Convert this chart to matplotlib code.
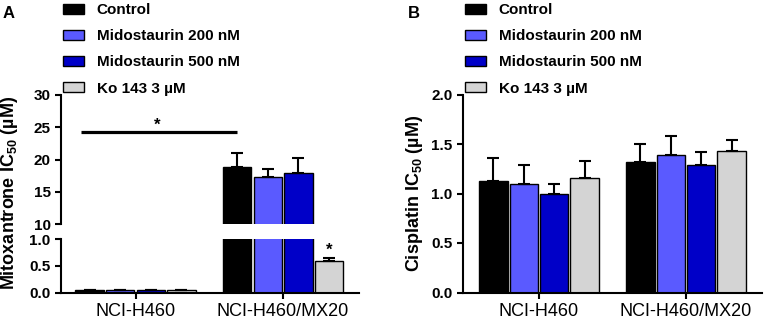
import numpy as np
import matplotlib
matplotlib.use("Agg")
import matplotlib.pyplot as plt

plt.rcParams['font.family'] = ['Liberation Sans', 'DejaVu Sans']
plt.rcParams['mathtext.fontset'] = 'custom'
plt.rcParams['mathtext.rm'] = 'Liberation Sans:bold'
plt.rcParams['mathtext.bf'] = 'Liberation Sans:bold'
plt.rcParams['mathtext.it'] = 'Liberation Sans:bold:italic'
plt.rcParams['mathtext.default'] = 'rm'

# ---- data ----
cells = ['NCI-H460', 'NCI-H460/MX20']
treatments = ['Control', 'Midostaurin 200 nM', 'Midostaurin 500 nM', 'Ko 143 3 µM']
colors = ['#000000', '#5a5aff', '#0000c8', '#d4d4d4']

# mitoxantrone IC50 (uM), rows = treatment, cols = cell line
mito_mean = [[0.05, 18.8], [0.05, 17.3], [0.05, 18.0], [0.05, 0.59]]
mito_err = [[0.0, 2.3], [0.0, 1.25], [0.0, 2.3], [0.0, 0.06]]

# cisplatin IC50 (uM)
cis_mean = [[1.125, 1.32], [1.10, 1.385], [0.995, 1.285], [1.152, 1.425]]
cis_err = [[0.23, 0.18], [0.185, 0.20], [0.10, 0.13], [0.175, 0.12]]

W, H = 765, 320
fig = plt.figure(figsize=(W/100, H/100), dpi=100)

def fx(px): return px/W
def fy(py): return 1-py/H

axA_up = fig.add_axes([fx(61), fy(224.3), fx(359)-fx(61), fy(95)-fy(224.3)])
axA_lo = fig.add_axes([fx(61), fy(292.5), fx(359)-fx(61), fy(239.3)-fy(292.5)])
axB = fig.add_axes([fx(463), fy(292.5), fx(762)-fx(463), fy(94.5)-fy(292.5)])

x = np.arange(len(cells))
pitch = 0.207
bw = 0.193

def draw_bars(ax, means, errs):
    hs = []
    for i, t in enumerate(treatments):
        pos = x + (i-1.5)*pitch
        b = ax.bar(pos, means[i], bw, color=colors[i], edgecolor='black', linewidth=1.0,
                   label=t, zorder=2)
        ax.errorbar(pos, means[i], yerr=[np.zeros(len(cells)), errs[i]], fmt='none',
                    ecolor='black', elinewidth=1.5, capsize=4.5, capthick=1.5, zorder=3)
        hs.append(b)
    return hs

def style(ax):
    for s in ['top', 'right']:
        ax.spines[s].set_visible(False)
    for s in ['left', 'bottom']:
        ax.spines[s].set_linewidth(1.5)
    ax.tick_params(direction='out', length=4, width=1.5, labelsize=11)
    for lab in ax.get_yticklabels():
        lab.set_fontweight('bold')

handles = draw_bars(axA_up, mito_mean, mito_err)
draw_bars(axA_lo, mito_mean, mito_err)
draw_bars(axB, cis_mean, cis_err)

# panel A upper
axA_up.set_ylim(10, 30)
axA_up.set_yticks([10, 15, 20, 25, 30])
axA_up.set_xlim(-0.505, 1.515)
axA_up.set_xticks([])
style(axA_up)
axA_up.spines['bottom'].set_visible(False)
axA_up.plot([-0.37, 0.69], [24.3, 24.3], color='black', lw=2.3, solid_capstyle='butt')
axA_up.text(0.146, 25.3, '*', ha='center', va='center', fontsize=12, fontweight='bold')

# panel A lower
axA_lo.set_ylim(0, 1.0)
axA_lo.set_yticks([0, 0.5, 1.0])
axA_lo.set_yticklabels(['0.0', '0.5', '1.0'])
axA_lo.set_xlim(-0.505, 1.515)
axA_lo.set_xticks(x)
axA_lo.set_xticklabels(cells)
style(axA_lo)
axA_lo.tick_params(axis='x', labelsize=13)
axA_lo.text(1 + 1.5*pitch, 0.8, '*', ha='center', va='center', fontsize=12, fontweight='bold')

# panel B
axB.set_ylim(0, 2.0)
axB.set_yticks([0, 0.5, 1.0, 1.5, 2.0])
axB.set_yticklabels(['0.0', '0.5', '1.0', '1.5', '2.0'])
axB.set_xlim(-0.517, 1.517)
axB.set_xticks(x)
axB.set_xticklabels(cells)
style(axB)
axB.tick_params(axis='x', labelsize=13)

# y labels and panel letters
fig.text(fx(10), fy(193), 'Mitoxantrone IC$_{50}$ (µM)', rotation=90, ha='center', va='center',
         fontsize=13, fontweight='bold')
fig.text(fx(415), fy(193), 'Cisplatin IC$_{50}$ (µM)', rotation=90, ha='center', va='center',
         fontsize=13, fontweight='bold')
fig.text(fx(3), fy(13), 'A', fontsize=12, fontweight='bold', va='center')
fig.text(fx(408), fy(13), 'B', fontsize=12, fontweight='bold', va='center')

# legends
for lx in [63, 465]:
    leg = fig.legend(handles, treatments, loc='upper left', bbox_to_anchor=(fx(lx), fy(3)),
                     frameon=False, borderpad=0, borderaxespad=0, handlelength=1.35,
                     handleheight=0.65, handletextpad=0.85, labelspacing=0.8,
                     prop={'size': 11, 'weight': 'bold'})

fig.savefig('out.png', dpi=100)
